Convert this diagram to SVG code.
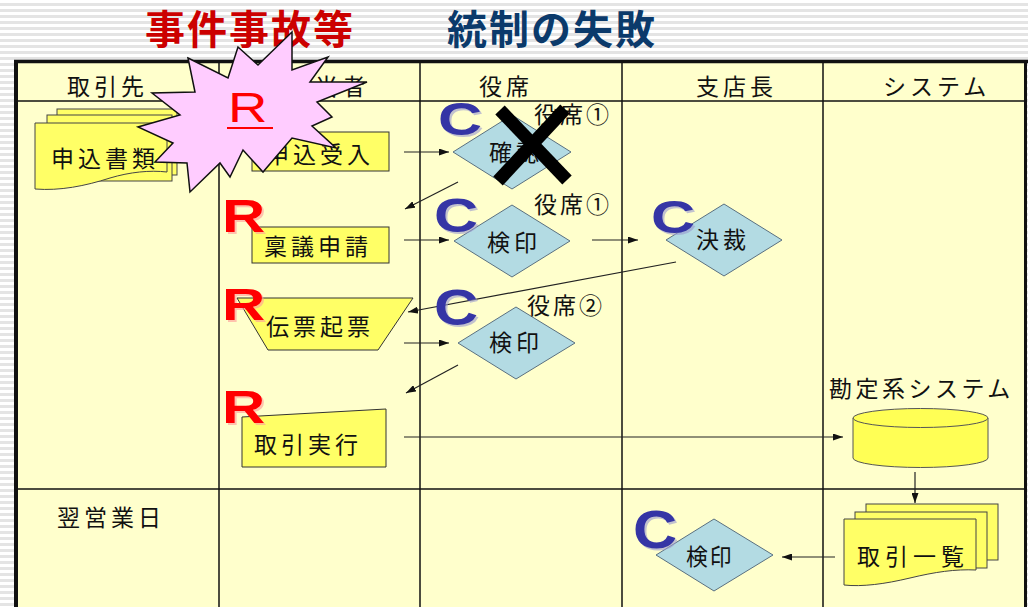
<svg xmlns="http://www.w3.org/2000/svg" width="1028" height="607" viewBox="0 0 1028 607">
<style>
.t{font-family:"Noto Sans CJK JP","Noto Sans",sans-serif;font-size:23px;letter-spacing:4px;fill:#111}
.lbl{font-family:"Noto Sans CJK JP","Noto Sans",sans-serif;font-size:23px;fill:#111}
.ttl{font-family:"Noto Sans CJK JP",sans-serif;font-size:40px;font-weight:bold;letter-spacing:2px}
.grid{stroke:#111;stroke-width:1.5;fill:none}
.box{fill:#ffff66;stroke:#333;stroke-width:1}
.dia{fill:#b3dbe3;stroke:#5a7080;stroke-width:1}
.con{stroke:#222;stroke-width:1.2;fill:none;marker-end:url(#ah)}
.C{font-family:"Liberation Sans",Arial,sans-serif;font-weight:bold;font-size:47px;fill:#3535a5}
.Cs{font-family:"Liberation Sans",Arial,sans-serif;font-weight:bold;font-size:47px;fill:#9a9ad0;opacity:0.6}
.R{font-family:"Liberation Sans",Arial,sans-serif;font-weight:bold;font-size:46px;fill:#ff0000}
.Rs{font-family:"Liberation Sans",Arial,sans-serif;font-weight:bold;font-size:46px;fill:#ff9a9a;opacity:0.6}
</style>
<defs>
<pattern id="stripe" width="8" height="6" patternUnits="userSpaceOnUse">
<rect width="8" height="6" fill="#ffffff"/>
<rect y="3" width="8" height="3" fill="#e4e4e4"/>
</pattern>
<marker id="ah" viewBox="0 0 10 7" refX="10" refY="3.5" markerWidth="10" markerHeight="7" markerUnits="userSpaceOnUse" orient="auto">
<path d="M0,0 L10,3.5 L0,7 z" fill="#111"/>
</marker>
</defs>
<rect width="1028" height="607" fill="url(#stripe)"/>
<text class="ttl" x="145" y="44" fill="#cc0000">事件事故等</text>
<text class="ttl" x="447" y="44" fill="#0b3a6b">統制の失敗</text>

<g id="table">
<rect x="16" y="62" width="1010" height="560" fill="#ffffcc"/>
<line class="grid" x1="16" y1="101" x2="1026" y2="101"/>
<line class="grid" x1="16" y1="489" x2="1026" y2="489"/>
<line class="grid" x1="219" y1="62" x2="219" y2="607"/>
<line class="grid" x1="420" y1="62" x2="420" y2="607"/>
<line class="grid" x1="622" y1="62" x2="622" y2="607"/>
<line class="grid" x1="823" y1="62" x2="823" y2="607"/>
<line x1="14" y1="61.5" x2="1028" y2="61.5" stroke="#111" stroke-width="3.5"/>
<line x1="16" y1="60" x2="16" y2="607" stroke="#111" stroke-width="4"/>
<line x1="1025.5" y1="60" x2="1025.5" y2="607" stroke="#111" stroke-width="3"/>
<text class="t" x="67" y="95">取引先</text>
<text class="t" x="288" y="95">担当者</text>
<text class="t" x="479" y="95">役席</text>
<text class="t" x="696" y="95">支店長</text>
<text class="t" x="883" y="95">システム</text>
<text class="t" x="57" y="526">翌営業日</text>
</g>

<g id="connectors">
<line class="con" x1="404" y1="152" x2="449" y2="152"/>
<line class="con" x1="458" y1="182" x2="405" y2="209"/>
<line class="con" x1="404" y1="240" x2="449" y2="240"/>
<line class="con" x1="592" y1="240" x2="638" y2="240"/>
<line class="con" x1="676" y1="262" x2="408" y2="312"/>
<line class="con" x1="404" y1="343" x2="449" y2="343"/>
<line class="con" x1="458" y1="365" x2="406" y2="393"/>
<line class="con" x1="404" y1="437" x2="843" y2="437"/>
<line class="con" x1="915" y1="472" x2="915" y2="503"/>
<line class="con" x1="835" y1="557" x2="782" y2="557"/>
</g>

<g id="doc-moushikomi">
<rect x="57" y="109" width="120" height="66" fill="#ffff66" stroke="#444" stroke-width="1"/>
<rect x="47" y="115" width="125" height="66" fill="#ffff66" stroke="#444" stroke-width="1"/>
<path d="M35,123 H167 V172 C150,170 130,172 110,178 C85,186 60,191 35,189 Z" fill="#ffff66" stroke="#444" stroke-width="1"/>
<text class="t" x="51" y="167">申込書類</text>
</g>

<g id="uketsuke">
<rect class="box" x="252" y="132" width="137" height="39"/>
<text class="t" x="266" y="163">申込受入</text>
</g>

<g id="ringi">
<rect class="box" x="252" y="227" width="137" height="36"/>
<text class="t" x="264" y="255">稟議申請</text>
</g>

<g id="denpyo">
<path class="box" d="M237,298 H413 L378,350 H268 Z"/>
<text class="t" x="266" y="335">伝票起票</text>
</g>

<g id="jikko">
<path class="box" d="M242,417 L386,409 V467 H242 Z"/>
<text class="t" x="254" y="453">取引実行</text>
</g>

<g id="kakunin">
<path class="dia" d="M453,152 L512,115 L571,152 L512,189 Z"/>
<text class="t" x="489" y="161">確認</text>
<text class="t" x="534" y="123" style="letter-spacing:3px">役席①</text>
</g>

<g id="kenin1">
<path class="dia" d="M454,241 L512,205 L570,241 L512,277 Z"/>
<text class="t" x="487" y="251">検印</text>
<text class="t" x="534" y="213" style="letter-spacing:3px">役席①</text>
</g>

<g id="kessai">
<path class="dia" d="M666,240 L724,204 L782,240 L724,276 Z"/>
<text class="t" x="696" y="248">決裁</text>
</g>

<g id="kenin2">
<path class="dia" d="M458,343 L516,307 L575,343 L516,379 Z"/>
<text class="t" x="489" y="351">検印</text>
<text class="t" x="527" y="314" style="letter-spacing:3px">役席②</text>
</g>

<g id="kanjoukei">
<text class="t" x="829" y="397" style="letter-spacing:3.5px">勘定系システム</text>
<path d="M853,418 V458 A67.5,9.5 0 0 0 988,458 V418" fill="#ffff55" stroke="#555" stroke-width="1"/>
<ellipse cx="920.5" cy="418" rx="67.5" ry="9.5" fill="#ffff55" stroke="#555" stroke-width="1"/>
</g>

<g id="torihiki-ichiran">
<rect x="866" y="504" width="132" height="56" fill="#ffff66" stroke="#444" stroke-width="1"/>
<rect x="855" y="512" width="132" height="56" fill="#ffff66" stroke="#444" stroke-width="1"/>
<path d="M844,519 H976 V570 C955,569 935,572 910,578 C885,584 862,587 844,585 Z" fill="#ffff66" stroke="#444" stroke-width="1"/>
<text class="t" x="857" y="565" style="letter-spacing:5px">取引一覧</text>
</g>

<g id="kenin3">
<path class="dia" d="M656,555 L714,519 L773,555 L714,591 Z"/>
<text class="t" x="686" y="565" transform="translate(686,0) scale(0.95,1) translate(-686,0)" style="letter-spacing:2px">検印</text>
</g>

<g id="marks-C">
<text class="Cs" transform="translate(440,137) scale(1.3,1)">C</text>
<text class="C" transform="translate(438,135) scale(1.3,1)">C</text>
<text class="Cs" transform="translate(436,234) scale(1.3,1.02)">C</text>
<text class="C" transform="translate(434,232) scale(1.3,1.02)">C</text>
<text class="Cs" transform="translate(436,327) scale(1.3,1.07)">C</text>
<text class="C" transform="translate(434,325) scale(1.3,1.07)">C</text>
<text class="Cs" transform="translate(653,235) scale(1.3,1)">C</text>
<text class="C" transform="translate(651,233) scale(1.3,1)">C</text>
<text class="Cs" transform="translate(635,550) scale(1.3,1.15)">C</text>
<text class="C" transform="translate(633,548) scale(1.3,1.15)">C</text>
</g>

<g id="marks-R">
<text class="Rs" transform="translate(224,234) scale(1.3,1)">R</text>
<text class="R" transform="translate(222,232) scale(1.3,1)">R</text>
<text class="Rs" transform="translate(224,322) scale(1.3,0.95)">R</text>
<text class="R" transform="translate(222,320) scale(1.3,0.95)">R</text>
<text class="Rs" transform="translate(224,425) scale(1.3,1)">R</text>
<text class="R" transform="translate(222,423) scale(1.3,1)">R</text>
</g>

<g id="star">
<polygon points="188,58 228,78 238,47 258,65 292,32 292,70 328,57 310,82 367,82 317,102 332,117 312,126 336,148 292,138 263,172 243,150 230,177 220,163 190,192 187,163 155,162 173,143 138,127 180,115 152,93 195,92" fill="#ffccff" stroke="#111" stroke-width="1.5" stroke-linejoin="miter"/>
<text transform="translate(228,122) scale(1.3,1)" font-family="Liberation Sans, Arial, sans-serif" font-size="42" fill="#ff0000">R</text>
<line x1="227" y1="128" x2="273" y2="128" stroke="#ff0000" stroke-width="2.2"/>
</g>

<g id="cross">
<line x1="500" y1="110" x2="567" y2="180" stroke="#000" stroke-width="13"/>
<line x1="565" y1="109" x2="498" y2="181" stroke="#000" stroke-width="13"/>
</g>
</svg>
